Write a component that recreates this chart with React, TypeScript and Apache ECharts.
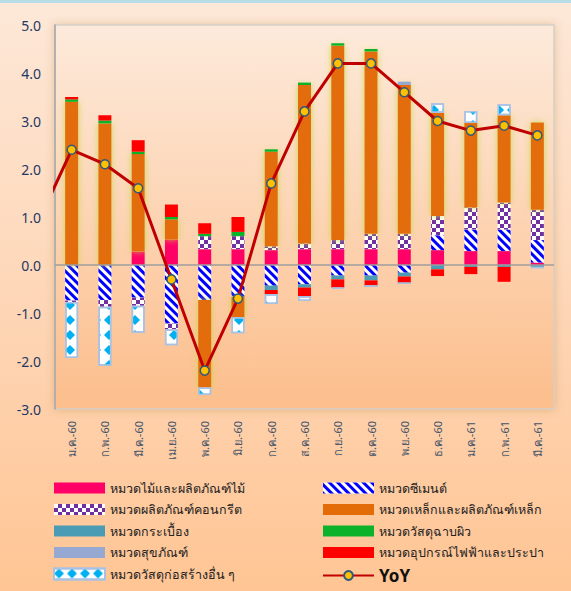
import React, { useEffect, useRef } from "react";
import * as echarts from "echarts";

const categories = [
  "ม.ค.-60", "ก.พ.-60", "มี.ค.-60", "เม.ย.-60", "พ.ค.-60", "มิ.ย.-60", "ก.ค.-60",
  "ส.ค.-60", "ก.ย.-60", "ต.ค.-60", "พ.ย.-60", "ธ.ค.-60", "ม.ค.-61", "ก.พ.-61", "มี.ค.-61",
];

const woodValues = [0, 0, 0.28, 0.53, 0.33, 0.33, 0.31, 0.33, 0.33, 0.33, 0.33, 0.31, 0.29, 0.29, 0.05];
const cementValues = [-0.74, -0.73, -0.68, -1.22, -0.73, -0.66, -0.43, -0.4, -0.22, -0.22, -0.16, 0.31, 0.45, 0.45, 0.47];
const concreteValues = [-0.03, -0.14, -0.17, -0.12, 0.27, 0.27, 0.08, 0.12, 0.19, 0.32, 0.32, 0.4, 0.46, 0.56, 0.63];
const steelValues = [3.4, 2.95, 2.03, 0.42, -1.82, -0.43, 1.97, 3.3, 4.05, 3.8, 3.1, 2.15, 1.76, 1.82, 1.82];
const tileValues = [0, 0, 0, 0, 0, 0, -0.09, -0.07, -0.08, -0.1, -0.08, -0.09, -0.04, -0.04, -0.05];
const coatingValues = [0.05, 0.06, 0.05, 0.05, 0.05, 0.09, 0.05, 0.05, 0.05, 0.05, 0, 0, 0, 0, 0];
const sanitaryValues = [0, 0, 0, 0, 0, 0, 0, 0, 0, 0, 0.07, 0, 0, 0, 0];
const electricValues = [0.05, 0.11, 0.24, 0.26, 0.22, 0.31, -0.09, -0.18, -0.17, -0.12, -0.14, -0.14, -0.15, -0.31, 0];
const otherValues = [-1.17, -1.23, -0.56, -0.33, -0.16, -0.33, -0.2, -0.1, -0.03, 0, 0, 0.2, 0.25, 0.23, 0];
const yoyValues = [2.4, 2.1, 1.6, -0.3, -2.2, -0.7, 1.7, 3.2, 4.2, 4.2, 3.6, 3.0, 2.8, 2.9, 2.7];
const yoyPrevious = 0.9; // month before the first shown category (line enters from the left edge)

const yTicks = { min: -3, max: 5, interval: 1 };

const names = {
  wood: "หมวดไม้และผลิตภัณฑ์ไม้",
  cement: "หมวดซีเมนต์",
  concrete: "หมวดผลิตภัณฑ์คอนกรีต",
  steel: "หมวดเหล็กและผลิตภัณฑ์เหล็ก",
  tile: "หมวดกระเบื้อง",
  coating: "หมวดวัสดุฉาบผิว",
  sanitary: "หมวดสุขภัณฑ์",
  electric: "หมวดอุปกรณ์ไฟฟ้าและประปา",
  other: "หมวดวัสดุก่อสร้างอื่น ๆ",
  yoy: "YoY",
};

const FONT = "'Noto Sans', 'DejaVu Sans', sans-serif";

export default function App() {
  const ref = useRef<HTMLDivElement>(null);

  useEffect(() => {
    document.body.style.margin = "0";
    if (!ref.current) return;
    const chart = echarts.init(ref.current, undefined, { renderer: "svg" });

    const bar = (name: string, data: number[], itemStyle: any, extra: any = {}) => ({
      name,
      type: "bar",
      stack: "total",
      barWidth: 13,
      data,
      itemStyle,
      ...extra,
    });

    const linePoints = [[-1, yoyPrevious], ...yoyValues.map((v, i) => [i, v])];

    const legendBase = {
      orient: "vertical",
      top: 481,
      height: 140,
      padding: 0,
      itemWidth: 51,
      itemHeight: 11,
      itemGap: 7.5,
      textStyle: { fontSize: 12.5, color: "#222", fontFamily: FONT, lineHeight: 14 },
    };

    const option: any = {
      animation: false,
      backgroundColor: "transparent",
      graphic: [
        {
          type: "rect",
          left: 0,
          top: 0,
          shape: { width: 571, height: 3 },
          style: { fill: "#B7DDE8" },
          silent: true,
        },
      ],
      grid: {
        left: 55,
        right: 17,
        top: 25,
        bottom: 182,
        show: true,
        borderColor: "#D6CEC6",
        borderWidth: 1.5,
        shadowBlur: 8,
        shadowColor: "rgba(140,90,40,0.25)",
        backgroundColor: new echarts.graphic.LinearGradient(0, 0, 0, 1, [
          { offset: 0, color: "#FDEADB" },
          { offset: 1, color: "#FCBE8C" },
        ]),
      },
      legend: [
        {
          ...legendBase,
          left: 53,
          icon: "rect",
          data: [names.wood, names.concrete, names.tile, names.sanitary, names.other],
        },
        {
          ...legendBase,
          left: 322,
          data: [
            { name: names.cement, icon: "rect" },
            { name: names.steel, icon: "rect" },
            { name: names.coating, icon: "rect" },
            { name: names.electric, icon: "rect" },
            { name: names.yoy, textStyle: { fontSize: 17, fontWeight: "bold", color: "#111", lineHeight: 14 } },
          ],
        },
      ],
      xAxis: [
        {
          type: "category",
          data: categories,
          boundaryGap: true,
          axisLine: { show: false, onZero: false },
          axisTick: { show: false },
          splitLine: { show: false },
          axisLabel: {
            rotate: 90,
            fontSize: 11,
            color: "#44546A",
            margin: 12,
            fontFamily: FONT,
            interval: 0,
          },
        },
        {
          type: "value",
          min: -0.5,
          max: 14.5,
          show: false,
          axisLine: { onZero: false },
        },
      ],
      yAxis: {
        type: "value",
        min: yTicks.min,
        max: yTicks.max,
        interval: yTicks.interval,
        axisLine: { show: true, onZero: false, lineStyle: { color: "#A6A6A6", width: 1.5 } },
        axisTick: { show: false },
        splitLine: { show: false },
        axisLabel: {
          formatter: (v: number) => v.toFixed(1),
          fontSize: 14,
          color: "#1F3864",
          margin: 14,
          fontFamily: FONT,
        },
      },
      series: [
        bar(names.wood, woodValues, { color: "#FF0066" }, {
          markLine: {
            silent: true,
            symbol: "none",
            label: { show: false },
            lineStyle: { color: "#9E9E9E", width: 1.5, type: "solid" },
            data: [{ yAxis: 0 }],
          },
        }),
        bar(names.cement, cementValues, {
          color: "#FFFFFF",
          decal: {
            symbol: "rect",
            symbolSize: 1,
            color: "#0000FF",
            dashArrayX: [1, 0],
            dashArrayY: [3, 3],
            rotation: Math.PI / 4,
          },
        }),
        bar(names.concrete, concreteValues, {
          color: "#FFFFFF",
          decal: {
            symbol: "rect",
            symbolSize: 1,
            color: "#7030A0",
            dashArrayX: [[4, 4], [0, 4, 4, 0]],
            dashArrayY: [4, 0],
          },
        }),
        bar(names.steel, steelValues, {
          color: "#E36C09",
          shadowBlur: 6,
          shadowColor: "rgba(195,215,60,0.85)",
        }),
        bar(names.tile, tileValues, { color: "#4A9CB5" }),
        bar(names.coating, coatingValues, { color: "#0CB32A" }),
        bar(names.sanitary, sanitaryValues, { color: "#95A9D3" }),
        bar(names.electric, electricValues, { color: "#FF0000" }),
        bar(names.other, otherValues, {
          color: "#FFFFFF",
          borderColor: "#A9C1E3",
          borderWidth: 1.5,
          decal: {
            symbol: "diamond",
            symbolSize: 1,
            color: "#00B0F0",
            dashArrayX: [10, 3],
            dashArrayY: [10, 5],
          },
        }),
        {
          name: names.yoy,
          type: "line",
          xAxisIndex: 1,
          yAxisIndex: 0,
          data: linePoints,
          clip: true,
          z: 10,
          symbol: "circle",
          symbolSize: 9,
          lineStyle: { color: "#C00000", width: 3 },
          itemStyle: { color: "#FFC000", borderColor: "#2F5A7A", borderWidth: 1.5 },
        },
      ],
    };

    chart.setOption(option);
    return () => chart.dispose();
  }, []);

  return (
    <div
      style={{
        position: "fixed",
        left: 0,
        top: 0,
        width: 571,
        height: 591,
        background: "linear-gradient(180deg, #FDE8D8 0%, #FED5B4 55%, #FFC594 100%)",
      }}
    >
      <div ref={ref} style={{ width: 571, height: 591 }} />
    </div>
  );
}
